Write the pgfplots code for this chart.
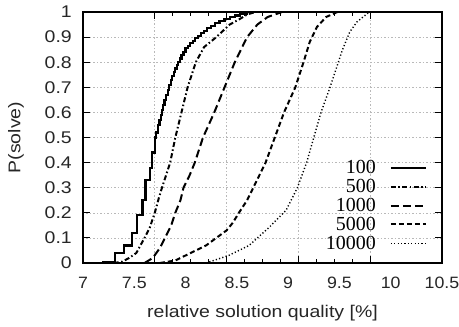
\documentclass[border=0pt]{standalone}
\usepackage{pgfplots}
\pgfplotsset{compat=1.18}
\usepackage{fontspec}
\setmainfont{Liberation Serif}
\newfontfamily\lsans[FakeStretch=1.15]{Liberation Sans}
\newfontfamily\lsansx[FakeStretch=1.08]{Liberation Sans}
\newfontfamily\lserif{Liberation Serif}
\begin{document}
\begin{tikzpicture}
\useasboundingbox (-83bp,-64bp) rectangle (376bp,263bp);
\begin{axis}[
  at={(0,0)}, anchor=south west,
  scale only axis, width=359bp, height=251bp,
  xmin=7, xmax=10.5, ymin=0, ymax=1,
  axis line style={line width=2.5bp},
  tick style={line width=1bp, black},
  tick align=inside,
  major tick length=7bp, minor tick length=4bp,
  xtick={7.7,8.4,9.1,9.8}, xticklabels={},
  minor x tick num=3,
  extra x ticks={7,7.5,8,8.5,9,9.5,10,10.5},
  extra x tick labels={7,7.5,8,8.5,9,9.5,10,10.5},
  extra x tick style={grid=none, major tick length=0pt},
  ytick={0,0.1,0.2,0.3,0.4,0.5,0.6,0.7,0.8,0.9,1},
  yticklabels={0,0.1,0.2,0.3,0.4,0.5,0.6,0.7,0.8,0.9,1},
  xmajorgrids, ymajorgrids,
  grid style={gray!55, dash pattern=on 1.5bp off 2bp, line width=0.6bp},
  /pgf/number format/assume math mode=true,
  ticklabel style={font=\lsans\fontsize{17}{17}\selectfont, text=black!85, inner sep=0pt},
  yticklabel style={xshift=-11bp},
  xticklabel style={yshift=-14bp, font=\lsansx\fontsize{16.5}{17}\selectfont},
  xlabel={relative solution quality [\%]},
  ylabel={P(solve)},
  label style={font=\lsans\fontsize{17}{17}\selectfont, text=black!85},
  xlabel style={at={(axis description cs:0.5,-0.2)}, anchor=center},
  ylabel style={at={(axis description cs:-0.187,0.5)}, anchor=center},
  legend style={draw=none, fill=none, at={(rel axis cs:0.967,0.04)}, anchor=south east,
    font=\lserif\fontsize{20}{20}\selectfont, row sep=4.2bp, column sep=14bp,
    nodes={inner sep=0pt}},
  legend cell align=right,
  legend plot pos=right,
  legend image code/.code={\draw[#1] (0bp,0bp) -- (35bp,0bp);},
]
\addplot[black, line width=2.2bp, const plot] coordinates {
(7.0,0) (7.2,0.005) (7.31,0.04) (7.40,0.07) (7.48,0.12) (7.53,0.19) (7.58,0.25)
(7.61,0.33) (7.65,0.38) (7.67,0.44) (7.70,0.50) (7.715,0.52) (7.73,0.55) (7.745,0.57)
(7.76,0.59) (7.77,0.61) (7.78,0.63) (7.795,0.65) (7.81,0.67) (7.825,0.69) (7.84,0.71)
(7.855,0.73) (7.87,0.745) (7.885,0.76) (7.90,0.775) (7.915,0.79) (7.93,0.80)
(7.945,0.815) (7.96,0.83) (7.98,0.84) (8.0,0.855) (8.02,0.865) (8.045,0.875)
(8.07,0.885) (8.095,0.895) (8.12,0.905) (8.15,0.915) (8.18,0.925) (8.21,0.935)
(8.25,0.945) (8.29,0.955) (8.33,0.965) (8.38,0.972) (8.43,0.98) (8.48,0.986)
(8.53,0.993) (8.6,1.0) (10.5,1.0)};
\addlegendentry{100}
\addplot[black, line width=2bp, dash pattern=on 5bp off 2.5bp on 1.5bp off 2.5bp] coordinates {
(7.3,0) (7.38,0.005) (7.45,0.02) (7.52,0.04) (7.56,0.07) (7.6,0.1) (7.65,0.14) (7.7,0.2)
(7.74,0.26) (7.77,0.3) (7.81,0.35) (7.85,0.4) (7.9,0.5) (7.96,0.6) (8.02,0.7) (8.1,0.8)
(8.18,0.86) (8.3,0.9) (8.43,0.95) (8.52,0.97) (8.6,0.99) (8.68,1) (10.5,1)};
\addlegendentry{500}
\addplot[black, line width=2bp, dash pattern=on 8bp off 4bp] coordinates {
(7.6,0) (7.68,0.02) (7.75,0.06) (7.8,0.1) (7.86,0.15) (7.9,0.2) (7.95,0.25) (7.98,0.3)
(8.04,0.35) (8.09,0.4) (8.17,0.5) (8.28,0.6) (8.38,0.7) (8.48,0.8) (8.6,0.9) (8.7,0.95)
(8.8,0.98) (8.94,1) (10.5,1)};
\addlegendentry{1000}
\addplot[black, line width=2bp, dash pattern=on 5bp off 3bp] coordinates {
(7.75,0) (7.9,0.01) (8.0,0.03) (8.1,0.05) (8.2,0.07) (8.3,0.1) (8.4,0.13) (8.46,0.16)
(8.52,0.2) (8.6,0.25) (8.66,0.3) (8.78,0.4) (8.87,0.5) (8.96,0.6) (9.07,0.7) (9.15,0.8)
(9.21,0.88) (9.28,0.94) (9.37,0.98) (9.48,1) (10.5,1)};
\addlegendentry{5000}
\addplot[black, line width=1.4bp, dash pattern=on 1.2bp off 2.2bp] coordinates {
(8.2,0) (8.42,0.03) (8.62,0.07) (8.81,0.14) (8.98,0.21) (9.09,0.3) (9.18,0.4) (9.25,0.5)
(9.32,0.6) (9.4,0.69) (9.53,0.85) (9.6,0.92) (9.67,0.96) (9.79,1) (10.5,1)};
\addlegendentry{10000}
\end{axis}
\end{tikzpicture}
\end{document}
